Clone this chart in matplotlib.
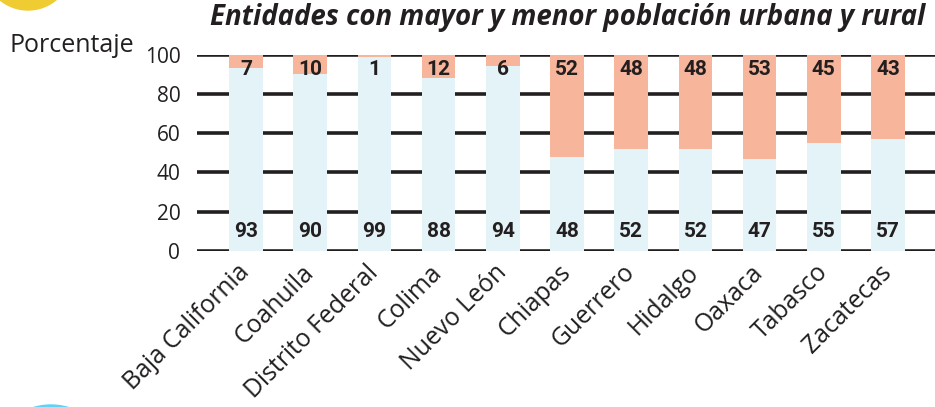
import matplotlib
matplotlib.use("Agg")
import matplotlib.pyplot as plt
from matplotlib.patches import Circle
import numpy as np

# Data
entidades = ["Baja California", "Coahuila", "Distrito Federal", "Colima",
             "Nuevo León", "Chiapas", "Guerrero", "Hidalgo", "Oaxaca",
             "Tabasco", "Zacatecas"]
urbana = [93, 90, 99, 88, 94, 48, 52, 52, 47, 55, 57]
rural = [7, 10, 1, 12, 6, 52, 48, 48, 53, 45, 43]
yticks = [0, 20, 40, 60, 80, 100]

TXT = "#231f20"
C_URB = "#e3f3f8"
C_RUR = "#f7b59b"

W, H = 935, 407
fig = plt.figure(figsize=(W / 100, H / 100), dpi=100)

left, right = 197, 935
bottom, top = 250.7, 54.7
ax = fig.add_axes([left / W, (H - bottom) / H, (right - left) / W, (bottom - top) / H])

x = np.arange(len(entidades))
step = 64.2  # px between bar centers
ax.set_xlim(-(246 - left) / step, (right - 246) / step)
ax.set_ylim(0, 100)

for yv in yticks:
    ax.axhline(yv, color=TXT, lw=2.6, zorder=1, solid_capstyle="butt")

ax.bar(x, urbana, width=0.525, color=C_URB, zorder=2)
ax.bar(x, rural, width=0.525, bottom=urbana, color=C_RUR, zorder=2)

for xi, u, r in zip(x, urbana, rural):
    ax.text(xi, 9.7, str(u), ha="center", va="center", fontsize=15,
            fontweight="bold", color=TXT, family="Roboto", zorder=3)
    ax.text(xi, 92.5, str(r), ha="center", va="center", fontsize=15,
            fontweight="bold", color=TXT, family="Roboto", zorder=3)

for s in ax.spines.values():
    s.set_visible(False)
ax.set_yticks(yticks)
ax.set_yticklabels([str(v) for v in yticks], fontsize=15, color=TXT, family="Open Sans")
ax.tick_params(axis="y", length=0, pad=12)
ax.set_xticks(x)
ax.set_xticklabels(entidades, rotation=45, ha="right", va="center",
                   rotation_mode="anchor", fontsize=17.8, color=TXT, family="Open Sans")
ax.tick_params(axis="x", length=0, pad=13)

fig.text(10 / W, (H - 46) / H, "Porcentaje", fontsize=18, color=TXT,
         family="Open Sans", ha="left", va="center")
fig.text(925 / W, (H - 18) / H,
         "Entidades con mayor y menor población urbana y rural",
         fontsize=19.9, fontweight="bold", style="italic", color=TXT,
         family="Open Sans", ha="right", va="center")

# decorative page markers
fig.patches.append(Circle((28, H + 34), 44, transform=None,
                          color="#f0cc33", zorder=0))
fig.patches.append(Circle((51, -59), 61, transform=None,
                          color="#5fd3f5", zorder=0))

fig.savefig("out.png", dpi=100)
